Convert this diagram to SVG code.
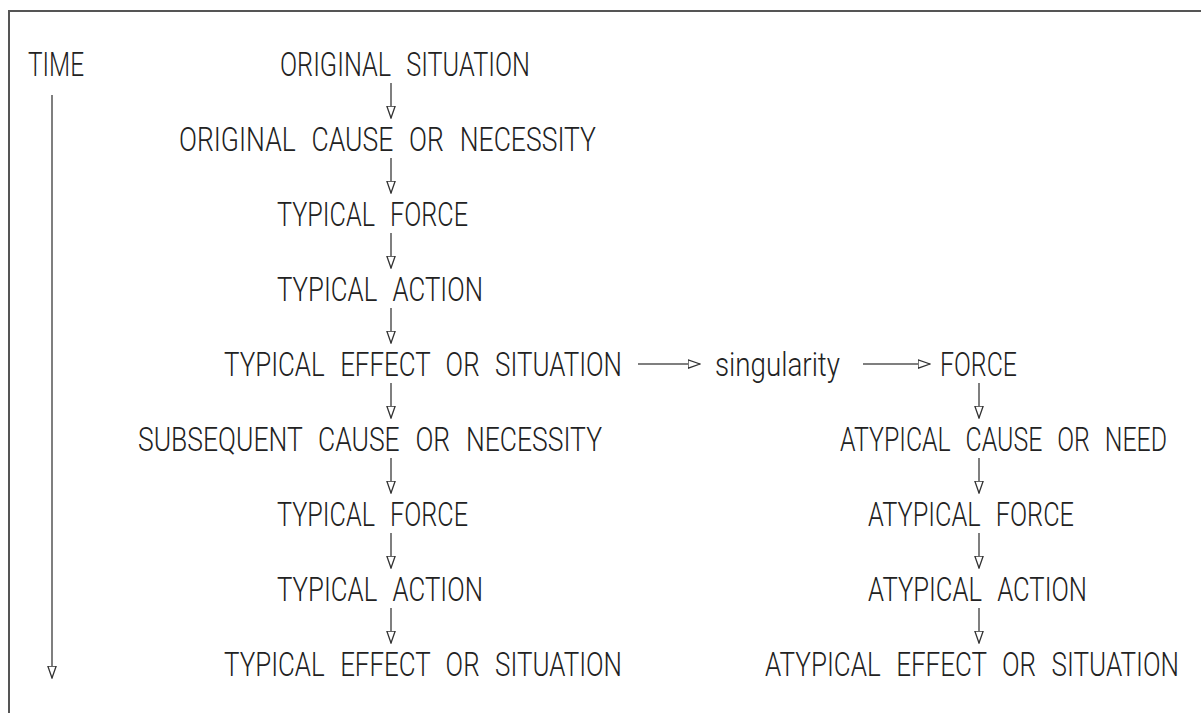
<svg xmlns="http://www.w3.org/2000/svg" width="1201" height="713" viewBox="0 0 1201 713">
<defs>
<style>
text{font-family:Roboto,"Liberation Sans",sans-serif;font-weight:300;font-size:34px;fill:#222;word-spacing:12px}
.c line{stroke:#555;stroke-width:1.5;fill:none}
.frame{stroke:#555;stroke-width:2;fill:none}
</style>
<marker id="ah" viewBox="0 0 13 10" refX="12.5" refY="5" markerWidth="13" markerHeight="10" markerUnits="userSpaceOnUse" orient="auto">
<path d="M0.5,0.8 L12.5,5 L0.5,9.2 Z" fill="#fff" stroke="#333" stroke-width="1.3"/>
</marker>
</defs>
<rect width="1201" height="713" fill="#fff"/>
<path class="frame" d="M9,713 V11 H1201"/>
<g id="time"><text x="28" y="76" textLength="56" lengthAdjust="spacingAndGlyphs">TIME</text></g>
<g id="n1"><text x="280" y="76" textLength="250" lengthAdjust="spacingAndGlyphs">ORIGINAL SITUATION</text></g>
<g id="n2"><text x="179" y="151" textLength="417" lengthAdjust="spacingAndGlyphs">ORIGINAL CAUSE OR NECESSITY</text></g>
<g id="n3"><text x="277" y="226" textLength="191" lengthAdjust="spacingAndGlyphs">TYPICAL FORCE</text></g>
<g id="n4"><text x="277" y="301" textLength="206" lengthAdjust="spacingAndGlyphs">TYPICAL ACTION</text></g>
<g id="n5"><text x="224" y="376" textLength="398" lengthAdjust="spacingAndGlyphs">TYPICAL EFFECT OR SITUATION</text></g>
<g id="n6"><text x="138" y="451" textLength="464" lengthAdjust="spacingAndGlyphs">SUBSEQUENT CAUSE OR NECESSITY</text></g>
<g id="n7"><text x="277" y="526" textLength="191" lengthAdjust="spacingAndGlyphs">TYPICAL FORCE</text></g>
<g id="n8"><text x="277" y="601" textLength="206" lengthAdjust="spacingAndGlyphs">TYPICAL ACTION</text></g>
<g id="n9"><text x="224" y="676" textLength="398" lengthAdjust="spacingAndGlyphs">TYPICAL EFFECT OR SITUATION</text></g>
<g id="sing"><text x="715" y="376" textLength="125" lengthAdjust="spacingAndGlyphs">singularity</text></g>
<g id="r1"><text x="940" y="376" textLength="77" lengthAdjust="spacingAndGlyphs">FORCE</text></g>
<g id="r2"><text x="840" y="451" textLength="327" lengthAdjust="spacingAndGlyphs">ATYPICAL CAUSE OR NEED</text></g>
<g id="r3"><text x="868" y="526" textLength="206" lengthAdjust="spacingAndGlyphs">ATYPICAL FORCE</text></g>
<g id="r4"><text x="868" y="601" textLength="219" lengthAdjust="spacingAndGlyphs">ATYPICAL ACTION</text></g>
<g id="r5"><text x="765" y="676" textLength="414" lengthAdjust="spacingAndGlyphs">ATYPICAL EFFECT OR SITUATION</text></g>
<g class="c" id="connectors">
<line x1="52" y1="95" x2="52" y2="678" marker-end="url(#ah)"/>
<line x1="391" y1="83" x2="391" y2="118" marker-end="url(#ah)"/>
<line x1="391" y1="158" x2="391" y2="193" marker-end="url(#ah)"/>
<line x1="391" y1="233" x2="391" y2="268" marker-end="url(#ah)"/>
<line x1="391" y1="308" x2="391" y2="343" marker-end="url(#ah)"/>
<line x1="391" y1="383" x2="391" y2="418" marker-end="url(#ah)"/>
<line x1="391" y1="458" x2="391" y2="493" marker-end="url(#ah)"/>
<line x1="391" y1="533" x2="391" y2="568" marker-end="url(#ah)"/>
<line x1="391" y1="608" x2="391" y2="643" marker-end="url(#ah)"/>
<line x1="638" y1="364" x2="700" y2="364" marker-end="url(#ah)"/>
<line x1="863" y1="364" x2="930" y2="364" marker-end="url(#ah)"/>
<line x1="979" y1="383" x2="979" y2="418" marker-end="url(#ah)"/>
<line x1="979" y1="458" x2="979" y2="493" marker-end="url(#ah)"/>
<line x1="979" y1="533" x2="979" y2="568" marker-end="url(#ah)"/>
<line x1="979" y1="608" x2="979" y2="643" marker-end="url(#ah)"/>
</g>
</svg>
